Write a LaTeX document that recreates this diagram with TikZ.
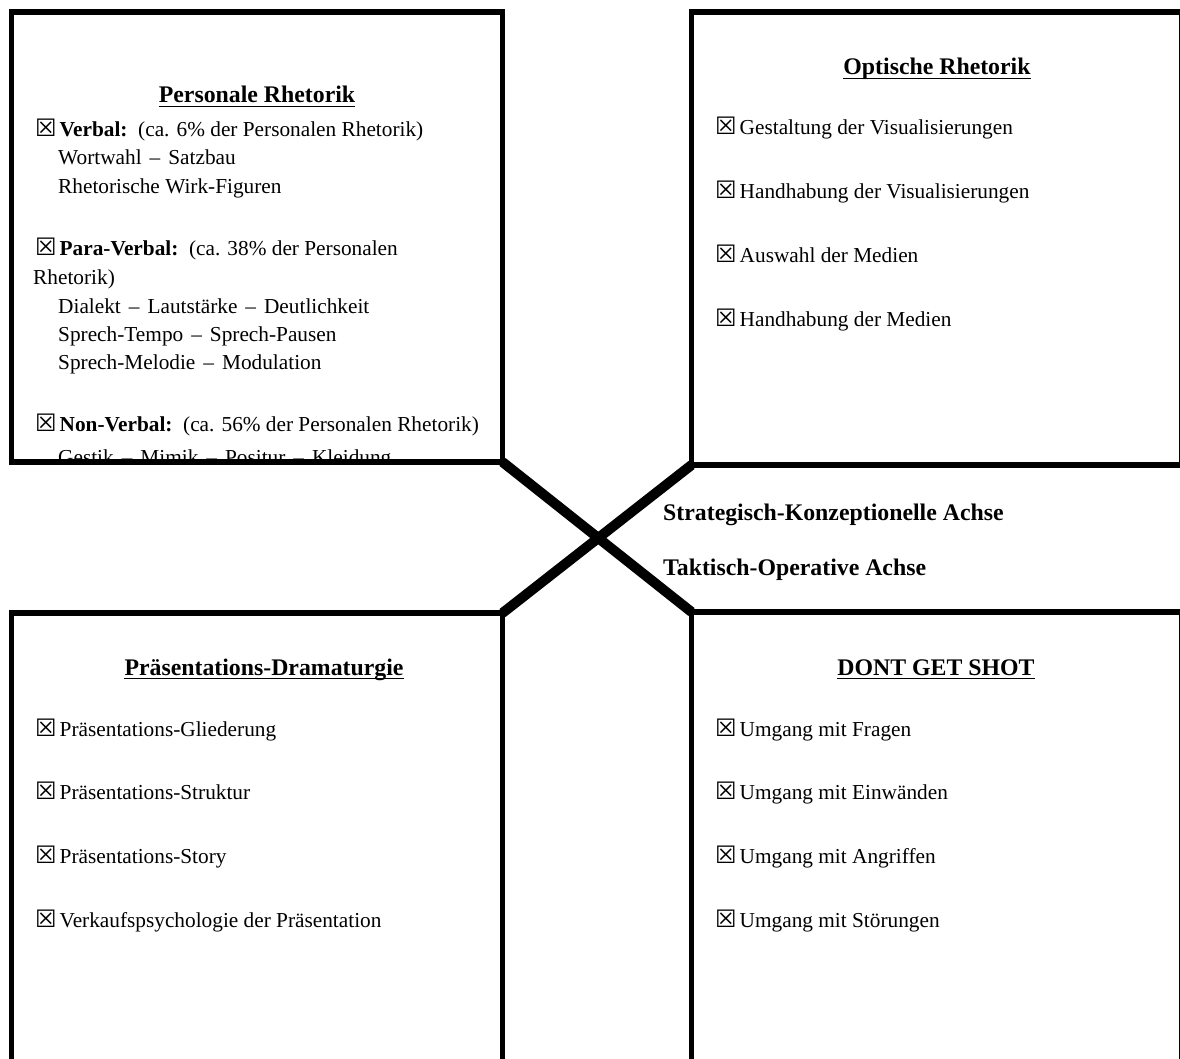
\documentclass[tikz,border=0pt]{standalone}
\usepackage{fontspec}
\setmainfont{Liberation Serif}
\newfontfamily\symfont{DejaVu Sans}
\newcommand\xb{{\symfont\fontsize{24}{24}\selectfont ☒}\hspace{3pt}}
\newcommand\dsep{\hspace{8pt}–\hspace{8pt}}
\tikzset{
  panel/.style={draw=black, line width=5.5pt, inner sep=0pt, outer sep=0pt},
  axis/.style={draw=black, line width=10pt},
  head/.style={font=\bfseries\fontsize{23.8}{28.5}\selectfont, inner sep=0pt, anchor=base},
  item/.style={font=\fontsize{21.3}{28.5}\selectfont, inner sep=0pt, anchor=base west},
  uline/.style={draw=black, line width=1.5pt},
}
\begin{document}
\begin{tikzpicture}[x=1pt, y=-1pt]
  \useasboundingbox (0,0) rectangle (1180,1059);
  % the four panels
  \node[panel, minimum width=491pt, minimum height=450pt] (pers) at (257,237) {};
  \node[panel, minimum width=490.5pt, minimum height=453pt] (opt) at (936.75,238.5) {};
  \node[panel, minimum width=491pt, minimum height=467pt] (dram) at (257,846.5) {};
  \node[panel, minimum width=490.5pt, minimum height=468pt] (shot) at (936.75,846) {};
  % the two axes
  \draw[axis] (pers.south east) -- (shot.north west);
  \draw[axis] (opt.south west) -- (dram.north east);
  \node[head, anchor=base west] (strat) at (663,520) {Strategisch-Konzeptionelle Achse};
  \node[head, anchor=base west] (takt) at (663,575) {Taktisch-Operative Achse};
  % titles
  \foreach \n/\x/\y/\t in {persT/257/103/Personale Rhetorik, optT/937/75/Optische Rhetorik,
      dramT/264/675/Präsentations-Dramaturgie, shotT/936/675/DONT GET SHOT} {
    \node[head] (\n) at (\x,\y) {\t};
    \draw[uline] ([yshift=-3.5pt]\n.base west) -- ([yshift=-3.5pt]\n.base east);
  }
  % Personale Rhetorik
  \node[item] (verbal) at (35,137) {\xb\textbf{Verbal:}\ \ (ca. 6\% der Personalen Rhetorik)};
  \node[item] (verbal1) at (58,165) {Wortwahl\dsep Satzbau};
  \node[item] (verbal2) at (58,194) {Rhetorische Wirk-Figuren};
  \node[item] (para) at (35,256) {\xb\textbf{Para-Verbal:}\ \ (ca. 38\% der Personalen};
  \node[item] (para0) at (33,284) {Rhetorik)};
  \node[item] (para1) at (58,313) {Dialekt\dsep Lautstärke\dsep Deutlichkeit};
  \node[item] (para2) at (58,341) {Sprech-Tempo\dsep Sprech-Pausen};
  \node[item] (para3) at (58,369) {Sprech-Melodie\dsep Modulation};
  \node[item] (nonv) at (35,431) {\xb\textbf{Non-Verbal:}\ \ (ca. 56\% der Personalen Rhetorik)};
  \begin{scope}
    \clip (0,0) rectangle ([yshift=2.75pt]pers.south east);
    \node[item] (nonv1) at (58,464) {Gestik\dsep Mimik\dsep Positur\dsep Kleidung};
  \end{scope}
  % Optische Rhetorik
  \foreach \t [count=\i] in {Gestaltung der Visualisierungen, Handhabung der Visualisierungen,
      Auswahl der Medien, Handhabung der Medien}
    \node[item] (opt\i) at (715,{135+63.7*(\i-1)}) {\xb\t};
  % Praesentations-Dramaturgie
  \foreach \t [count=\i] in {Präsentations-Gliederung, Präsentations-Struktur,
      Präsentations-Story, Verkaufspsychologie der Präsentation}
    \node[item] (dram\i) at (35,{736+63.7*(\i-1)}) {\xb\t};
  % DONT GET SHOT
  \foreach \t [count=\i] in {Umgang mit Fragen, Umgang mit Einwänden,
      Umgang mit Angriffen, Umgang mit Störungen}
    \node[item] (shot\i) at (715,{736+63.7*(\i-1)}) {\xb\t};
\end{tikzpicture}
\end{document}
